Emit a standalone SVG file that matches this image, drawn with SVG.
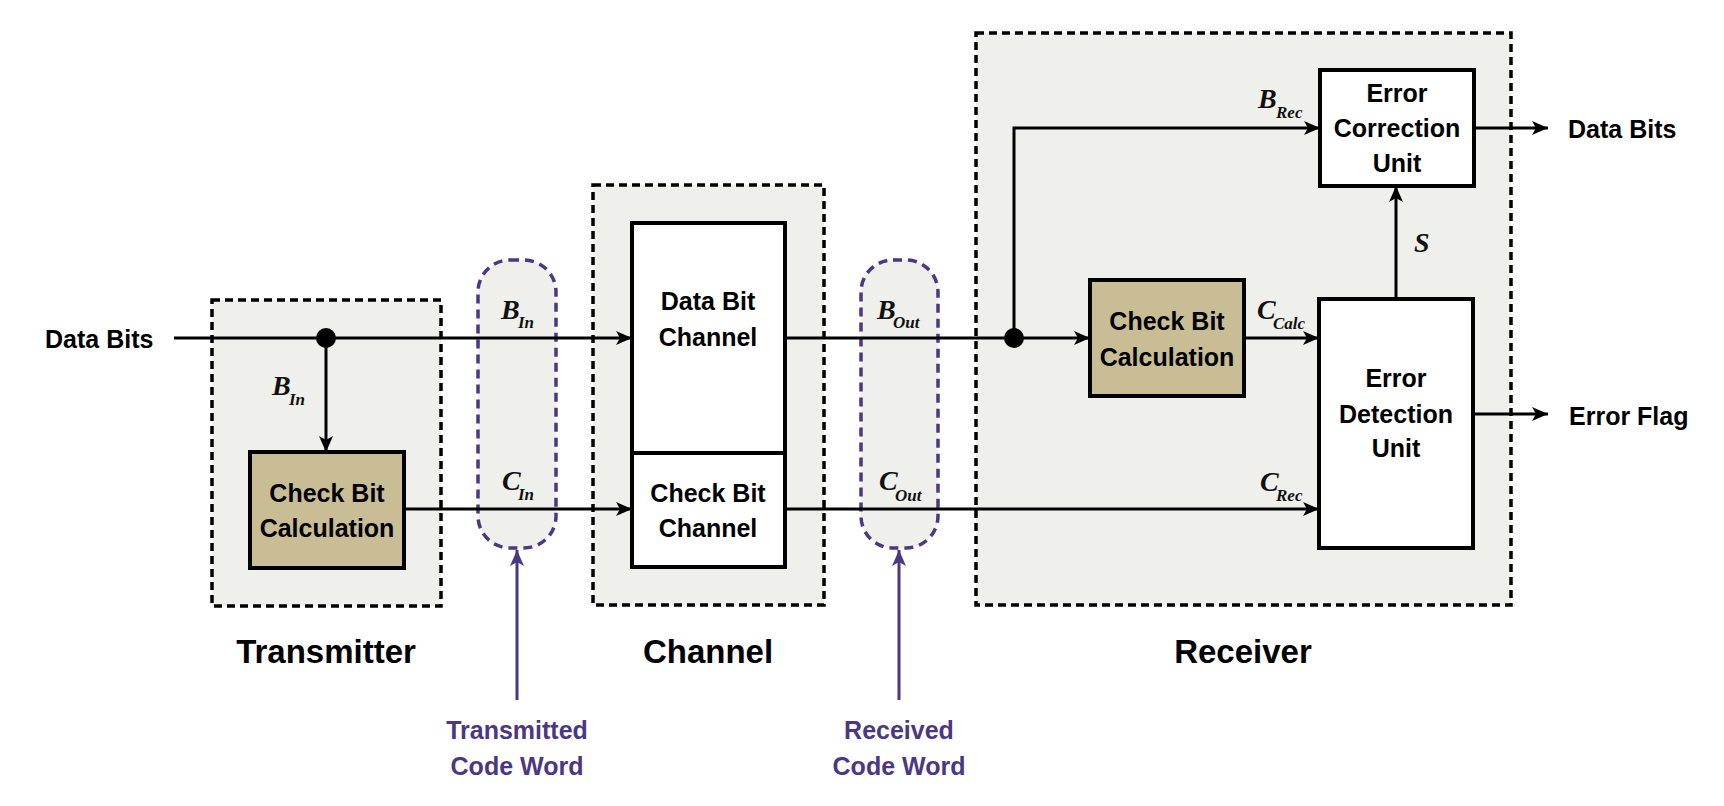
<svg xmlns="http://www.w3.org/2000/svg" width="1724" height="806" viewBox="0 0 1724 806">
<defs>
<style>
.grp{fill:#efefeb;stroke:#000;stroke-width:3.5;stroke-dasharray:8 5}
.bub{fill:#efefeb;stroke:#4b3784;stroke-width:3.5;stroke-dasharray:9 6}
.box{fill:#fff;stroke:#000;stroke-width:4}
.calc{fill:#c9bd95;stroke:#000;stroke-width:4}
.lbl{font-family:"Liberation Sans",Arial,sans-serif;font-weight:bold;font-size:25px;fill:#000}
.ttl{font-family:"Liberation Sans",Arial,sans-serif;font-weight:bold;font-size:33px;fill:#000}
.pl{font-family:"Liberation Sans",Arial,sans-serif;font-weight:bold;font-size:25px;fill:#4b3784}
.var{font-family:"Liberation Serif","Times New Roman",serif;font-style:italic;font-weight:bold;font-size:28px;fill:#111}
.sub{font-size:17px}
.wire{stroke:#000;stroke-width:3;fill:none}
.pwire{stroke:#4b3784;stroke-width:3;fill:none}
</style>
<marker id="arr" markerUnits="userSpaceOnUse" markerWidth="16" markerHeight="14" viewBox="0 0 16 14" refX="16" refY="7" orient="auto">
<path d="M0,0 L16,7 L0,14 L4,7 z" fill="#000"/>
</marker>
<marker id="parr" markerUnits="userSpaceOnUse" markerWidth="16" markerHeight="14" viewBox="0 0 16 14" refX="16" refY="7" orient="auto">
<path d="M0,0 L16,7 L0,14 L4,7 z" fill="#4b3784"/>
</marker>
</defs>
<rect width="1724" height="806" fill="#fff"/>

<g id="transmitter">
<rect class="grp" x="212" y="300" width="229" height="306"/>
<text class="ttl" x="326" y="663" text-anchor="middle">Transmitter</text>
</g>
<g id="channel">
<rect class="grp" x="593" y="185" width="231" height="420"/>
<text class="ttl" x="708" y="663" text-anchor="middle">Channel</text>
</g>
<g id="receiver">
<rect class="grp" x="976" y="33" width="535" height="572"/>
<text class="ttl" x="1243" y="663" text-anchor="middle">Receiver</text>
</g>
<g id="transmitted-code-word">
<rect class="bub" x="478" y="260" width="78" height="288" rx="32" ry="32"/>
<text class="pl" x="517" y="739" text-anchor="middle">Transmitted</text>
<text class="pl" x="517" y="775" text-anchor="middle">Code Word</text>
</g>
<g id="received-code-word">
<rect class="bub" x="861" y="260" width="77" height="288" rx="32" ry="32"/>
<text class="pl" x="899" y="739" text-anchor="middle">Received</text>
<text class="pl" x="899" y="775" text-anchor="middle">Code Word</text>
</g>

<g id="tx-check-bit-calculation">
<rect class="calc" x="250" y="452" width="154" height="116"/>
<text class="lbl" x="327" y="502" text-anchor="middle">Check Bit</text>
<text class="lbl" x="327" y="537" text-anchor="middle">Calculation</text>
</g>
<g id="data-bit-channel">
<rect class="box" x="632" y="223" width="153" height="230"/>
<text class="lbl" x="708" y="310" text-anchor="middle">Data Bit</text>
<text class="lbl" x="708" y="346" text-anchor="middle">Channel</text>
</g>
<g id="check-bit-channel">
<rect class="box" x="632" y="453" width="153" height="114"/>
<text class="lbl" x="708" y="502" text-anchor="middle">Check Bit</text>
<text class="lbl" x="708" y="537" text-anchor="middle">Channel</text>
</g>
<g id="rx-check-bit-calculation">
<rect class="calc" x="1090" y="280" width="154" height="116"/>
<text class="lbl" x="1167" y="330" text-anchor="middle">Check Bit</text>
<text class="lbl" x="1167" y="366" text-anchor="middle">Calculation</text>
</g>
<g id="error-correction-unit">
<rect class="box" x="1320" y="70" width="154" height="116"/>
<text class="lbl" x="1397" y="102" text-anchor="middle">Error</text>
<text class="lbl" x="1397" y="137" text-anchor="middle">Correction</text>
<text class="lbl" x="1397" y="172" text-anchor="middle">Unit</text>
</g>
<g id="error-detection-unit">
<rect class="box" x="1319" y="299" width="154" height="249"/>
<text class="lbl" x="1396" y="387" text-anchor="middle">Error</text>
<text class="lbl" x="1396" y="423" text-anchor="middle">Detection</text>
<text class="lbl" x="1396" y="457" text-anchor="middle">Unit</text>
</g>

<g id="connectors">
<path class="wire" d="M174,338 H632" marker-end="url(#arr)"/>
<path class="wire" d="M326,338 V452" marker-end="url(#arr)"/>
<path class="wire" d="M404,509 H632" marker-end="url(#arr)"/>
<path class="wire" d="M785,338 H1090" marker-end="url(#arr)"/>
<path class="wire" d="M1014,338 V128 H1320" marker-end="url(#arr)"/>
<path class="wire" d="M785,509 H1319" marker-end="url(#arr)"/>
<path class="wire" d="M1244,338 H1319" marker-end="url(#arr)"/>
<path class="wire" d="M1396,299 V186" marker-end="url(#arr)"/>
<path class="wire" d="M1474,128 H1548" marker-end="url(#arr)"/>
<path class="wire" d="M1473,414 H1548" marker-end="url(#arr)"/>
<path class="pwire" d="M517,700 V550" marker-end="url(#parr)"/>
<path class="pwire" d="M899,700 V550" marker-end="url(#parr)"/>
<circle cx="326" cy="338" r="10" fill="#000"/>
<circle cx="1014" cy="338" r="10" fill="#000"/>
</g>

<g id="labels">
<text class="lbl" x="45" y="348">Data Bits</text>
<text class="lbl" x="1568" y="138">Data Bits</text>
<text class="lbl" x="1569" y="425">Error Flag</text>
<text class="var"><tspan x="272" y="395">B</tspan><tspan class="sub" x="289" y="405">In</tspan></text>
<text class="var"><tspan x="501" y="319">B</tspan><tspan class="sub" x="518" y="328">In</tspan></text>
<text class="var"><tspan x="502" y="490">C</tspan><tspan class="sub" x="518" y="500">In</tspan></text>
<text class="var"><tspan x="877" y="319">B</tspan><tspan class="sub" x="893" y="328">Out</tspan></text>
<text class="var"><tspan x="879" y="490">C</tspan><tspan class="sub" x="895" y="501">Out</tspan></text>
<text class="var"><tspan x="1258" y="108">B</tspan><tspan class="sub" x="1276" y="118">Rec</tspan></text>
<text class="var"><tspan x="1257" y="319">C</tspan><tspan class="sub" x="1273" y="329">Calc</tspan></text>
<text class="var"><tspan x="1260" y="491">C</tspan><tspan class="sub" x="1276" y="501">Rec</tspan></text>
<text class="var" x="1414" y="252">S</text>
</g>
</svg>
